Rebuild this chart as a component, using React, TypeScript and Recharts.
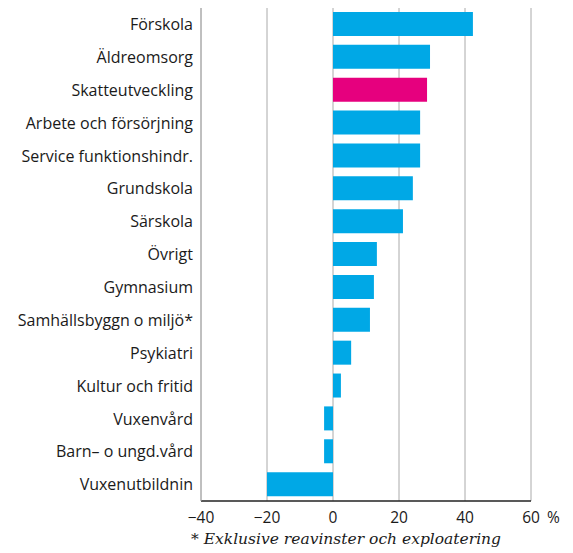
import React from "react";
import { BarChart, Bar, XAxis, YAxis, CartesianGrid, Cell } from "recharts";

const categories = [
  "Förskola",
  "Äldreomsorg",
  "Skatteutveckling",
  "Arbete och försörjning",
  "Service funktionshindr.",
  "Grundskola",
  "Särskola",
  "Övrigt",
  "Gymnasium",
  "Samhällsbyggn o miljö*",
  "Psykiatri",
  "Kultur och fritid",
  "Vuxenvård",
  "Barn– o ungd.vård",
  "Vuxenutbildnin",
];

const values = [42.4, 29.4, 28.5, 26.4, 26.4, 24.2, 21.2, 13.3, 12.4, 11.2, 5.5, 2.4, -2.7, -2.7, -20.0];

const highlighted = ["Skatteutveckling"];

const xTicks = [-40, -20, 0, 20, 40, 60];
const footnote = "* Exklusive reavinster och exploatering";

const data = categories.map((name, i) => ({ name, value: values[i] }));

const BLUE = "#00A8E6";
const PINK = "#E6007E";
const FONT = "'Open Sans', sans-serif";

const XTick = (props: any) => {
  const { x, y, payload } = props;
  const v = payload.value as number;
  const label = String(v).replace("-", "\u2212");
  const isLast = v === xTicks[xTicks.length - 1];
  return (
    <g>
      <text x={x} y={y + 14} textAnchor="middle" fontSize={15.5} fill="#1a1a1a" fontFamily={FONT}>
        {label}
      </text>
      {isLast && (
        <text x={x + 16} y={y + 14} textAnchor="start" fontSize={15.5} fill="#1a1a1a" fontFamily={FONT}>
          %
        </text>
      )}
    </g>
  );
};

export default function App() {
  return (
    <div style={{ position: "absolute", left: 0, top: 0, width: 573, height: 553, background: "#fff" }}>
      <BarChart
        width={573}
        height={553}
        data={data}
        layout="vertical"
        margin={{ top: 8, right: 42, bottom: 22, left: 0 }}
      >
        <CartesianGrid horizontal={false} vertical={true} stroke="#aaa" strokeWidth={1} />
        <XAxis
          type="number"
          domain={[-40, 60]}
          ticks={xTicks}
          height={30}
          axisLine={{ stroke: "#222", strokeWidth: 1.5 }}
          tickLine={false}
          tick={<XTick />}
          interval={0}
        />
        <YAxis
          type="category"
          dataKey="name"
          width={201}
          axisLine={{ stroke: "#aaa" }}
          tickLine={false}
          interval={0}
          tick={{ fontSize: 16, fill: "#1a1a1a", fontFamily: FONT }}
        />
        <Bar dataKey="value" barSize={24} isAnimationActive={false}>
          {data.map((d) => (
            <Cell key={d.name} fill={highlighted.includes(d.name) ? PINK : BLUE} />
          ))}
        </Bar>
      </BarChart>
      <div
        style={{
          position: "absolute",
          left: 191,
          top: 530,
          fontFamily: "'DejaVu Serif', serif",
          fontStyle: "italic",
          fontSize: 15.5,
          color: "#1a1a1a",
          whiteSpace: "nowrap",
        }}
      >
        {footnote}
      </div>
    </div>
  );
}
